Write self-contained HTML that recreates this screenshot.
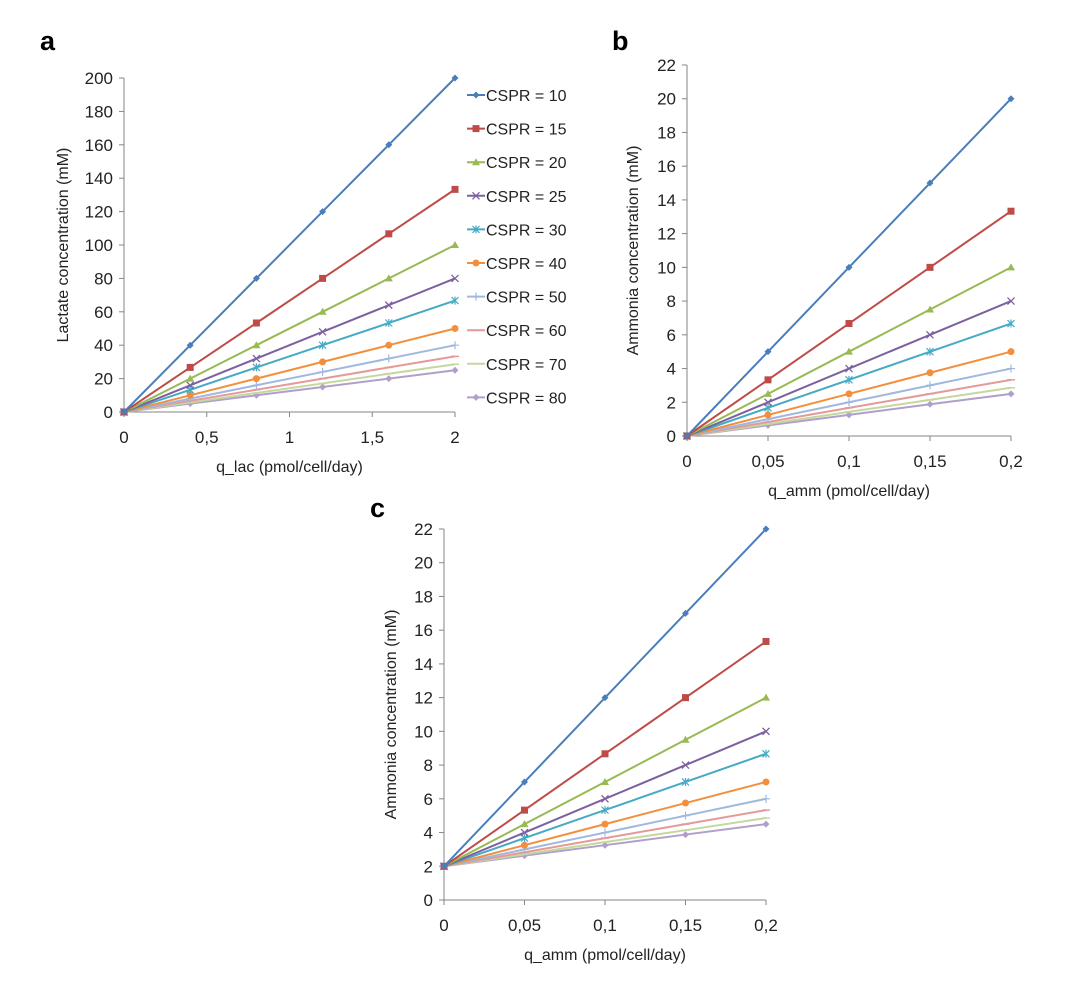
<!DOCTYPE html>
<html><head><meta charset="utf-8"><style>
body{margin:0;background:#fff;width:1080px;height:985px;overflow:hidden}
svg{font-family:"Liberation Sans",Arial,sans-serif}
</style></head><body>
<svg id="fig" width="1080" height="985"></svg>
<script>
const seriesNames=["CSPR = 10","CSPR = 15","CSPR = 20","CSPR = 25","CSPR = 30","CSPR = 40","CSPR = 50","CSPR = 60","CSPR = 70","CSPR = 80"];
const colors=["#4A7EBB","#BE4B48","#98B954","#7D60A0","#46AAC5","#F38F3C","#A0B8E0","#E39A99","#C4D89E","#B19FCB"];
const markers=["diamond","square","triangle","x","star","circle","plus","dash","dash","diamond"];
const xA=[0,0.4,0.8,1.2,1.6,2];
const yA=[[0,40,80,120,160,200],[0,26.7,53.3,80,106.7,133.3],[0,20,40,60,80,100],[0,16,32,48,64,80],[0,13.3,26.7,40,53.3,66.7],[0,10,20,30,40,50],[0,8,16,24,32,40],[0,6.7,13.3,20,26.7,33.3],[0,5.7,11.4,17.1,22.9,28.6],[0,5,10,15,20,25]];
const xB=[0,0.05,0.1,0.15,0.2];
const yB=[[0,5,10,15,20],[0,3.33,6.67,10,13.33],[0,2.5,5,7.5,10],[0,2,4,6,8],[0,1.67,3.33,5,6.67],[0,1.25,2.5,3.75,5],[0,1,2,3,4],[0,0.83,1.67,2.5,3.33],[0,0.71,1.43,2.14,2.86],[0,0.63,1.25,1.88,2.5]];
const xC=[0,0.05,0.1,0.15,0.2];
const yC=[[2,7,12,17,22],[2,5.33,8.67,12,15.33],[2,4.5,7,9.5,12],[2,4,6,8,10],[2,3.67,5.33,7,8.67],[2,3.25,4.5,5.75,7],[2,3,4,5,6],[2,2.83,3.67,4.5,5.33],[2,2.71,3.43,4.14,4.86],[2,2.63,3.25,3.88,4.5]];
const xTicksA=[0,0.5,1,1.5,2], xTickLabelsA=["0","0,5","1","1,5","2"];
const yTicksA=[0,20,40,60,80,100,120,140,160,180,200];
const xTicksB=[0,0.05,0.1,0.15,0.2], xTickLabelsB=["0","0,05","0,1","0,15","0,2"];
const yTicksB=[0,2,4,6,8,10,12,14,16,18,20,22];

const NS="http://www.w3.org/2000/svg";
const svg=document.getElementById('fig');
function el(tag,attrs,parent,text){const e=document.createElementNS(NS,tag);for(const k in attrs)e.setAttribute(k,attrs[k]);if(text!==undefined)e.textContent=text;(parent||svg).appendChild(e);return e;}
function marker(g,type,x,y,c){
  let m;
  if(type==="diamond")m=el('polygon',{points:`${x},${y-3.5} ${x+3.5},${y} ${x},${y+3.5} ${x-3.5},${y}`,fill:c},g);
  else if(type==="square")m=el('rect',{x:x-3.5,y:y-3.5,width:7,height:7,fill:c},g);
  else if(type==="triangle")m=el('polygon',{points:`${x},${y-4} ${x+4},${y+3} ${x-4},${y+3}`,fill:c},g);
  else if(type==="circle")m=el('circle',{cx:x,cy:y,r:3.5,fill:c},g);
  else if(type==="x")m=el('path',{d:`M${x-3.5},${y-3.5}L${x+3.5},${y+3.5}M${x-3.5},${y+3.5}L${x+3.5},${y-3.5}`,stroke:c,'stroke-width':1.3},g);
  else if(type==="star")m=el('path',{d:`M${x-3.5},${y-3.5}L${x+3.5},${y+3.5}M${x-3.5},${y+3.5}L${x+3.5},${y-3.5}M${x},${y-4}L${x},${y+4}`,stroke:c,'stroke-width':1.2},g);
  else if(type==="plus")m=el('path',{d:`M${x-4},${y}L${x+4},${y}M${x},${y-4}L${x},${y+4}`,stroke:c,'stroke-width':1.2},g);
  else m=el('path',{d:`M${x-4},${y}L${x+4},${y}`,stroke:c,'stroke-width':1.5},g);
  
  
}
function chart(o){
  const g=el('g',{},svg);
  
  
  const sx=v=>o.x0+(v-o.xmin)/(o.xmax-o.xmin)*(o.x1-o.x0);
  const sy=v=>o.y0-(v-o.ymin)/(o.ymax-o.ymin)*(o.y0-o.y1);
  const ax=el('path',{d:`M${o.x0},${o.y1}L${o.x0},${o.y0}L${o.x1},${o.y0}`,stroke:'#868686',fill:'none','stroke-width':1},g);
  
  
  o.yTicks.forEach(v=>{
    const y=sy(v);
    el('line',{x1:o.x0-5,x2:o.x0,y1:y,y2:y,stroke:'#868686'},g);
    const t=el('text',{x:o.x0-11,y:y+6,'text-anchor':'end','font-size':17,fill:'#222'},g,String(v));
    
    
  });
  o.xTicks.forEach((v,i)=>{
    const x=sx(v);
    el('line',{x1:x,x2:x,y1:o.y0,y2:o.y0+5,stroke:'#868686'},g);
    const t=el('text',{x:x,y:o.y0+31,'text-anchor':'middle','font-size':17,fill:'#222'},g,o.xLabels[i]);
    
    
  });
  const xt=el('text',{x:(o.x0+o.x1)/2,y:o.y0+60,'text-anchor':'middle','font-size':16,fill:'#222'},g,o.xTitle);
  
  
  const ycx=o.ytx, ycy=(o.y0+o.y1)/2;
  const yt=el('text',{x:ycx,y:ycy,'text-anchor':'middle','font-size':16,fill:'#222',transform:`rotate(-90 ${ycx} ${ycy})`},g,o.yTitle);
  
  
  const pl=el('text',{x:o.px,y:o.py,'font-size':27,'font-weight':'bold',fill:'#000'},g,o.panel);
  
  
  for(let s=o.ys.length-1;s>=0;s--){
    const sg=el('g',{},g);
    
    
    const pts=o.xs.map((x,i)=>sx(x)+','+sy(o.ys[s][i])).join(' ');
    const ln=el('polyline',{points:pts,fill:'none',stroke:colors[s],'stroke-width':2},sg);
    
    
    o.xs.forEach((x,i)=>marker(sg,markers[s],sx(x),sy(o.ys[s][i]),colors[s]));
  }
}
chart({name:'chart-a',panel:'a',px:40,py:50,x0:124,x1:455,y0:412,y1:78,xmin:0,xmax:2,ymin:0,ymax:200,xs:xA,ys:yA,xTicks:xTicksA,xLabels:xTickLabelsA,yTicks:yTicksA,xTitle:'q_lac (pmol/cell/day)',yTitle:'Lactate concentration (mM)',ytx:68});
chart({name:'chart-b',panel:'b',px:612,py:50,x0:687,x1:1011,y0:436,y1:65,xmin:0,xmax:0.2,ymin:0,ymax:22,xs:xB,ys:yB,xTicks:xTicksB,xLabels:xTickLabelsB,yTicks:yTicksB,xTitle:'q_amm (pmol/cell/day)',yTitle:'Ammonia concentration (mM)',ytx:638});
chart({name:'chart-c',panel:'c',px:370,py:517,x0:444,x1:766,y0:900,y1:529,xmin:0,xmax:0.2,ymin:0,ymax:22,xs:xC,ys:yC,xTicks:xTicksB,xLabels:xTickLabelsB,yTicks:yTicksB,xTitle:'q_amm (pmol/cell/day)',yTitle:'Ammonia concentration (mM)',ytx:396});
const lg=el('g',{},svg);


seriesNames.forEach((n,i)=>{
  const y=95+i*33.6;
  const e=el('g',{},lg);
  
  
  el('line',{x1:467,x2:485,y1:y,y2:y,stroke:colors[i],'stroke-width':2},e);
  marker(e,markers[i],476,y,colors[i]);
  el('text',{x:486,y:y+6,'font-size':16,fill:'#222'},e,n);
});
</script>
</body></html>
